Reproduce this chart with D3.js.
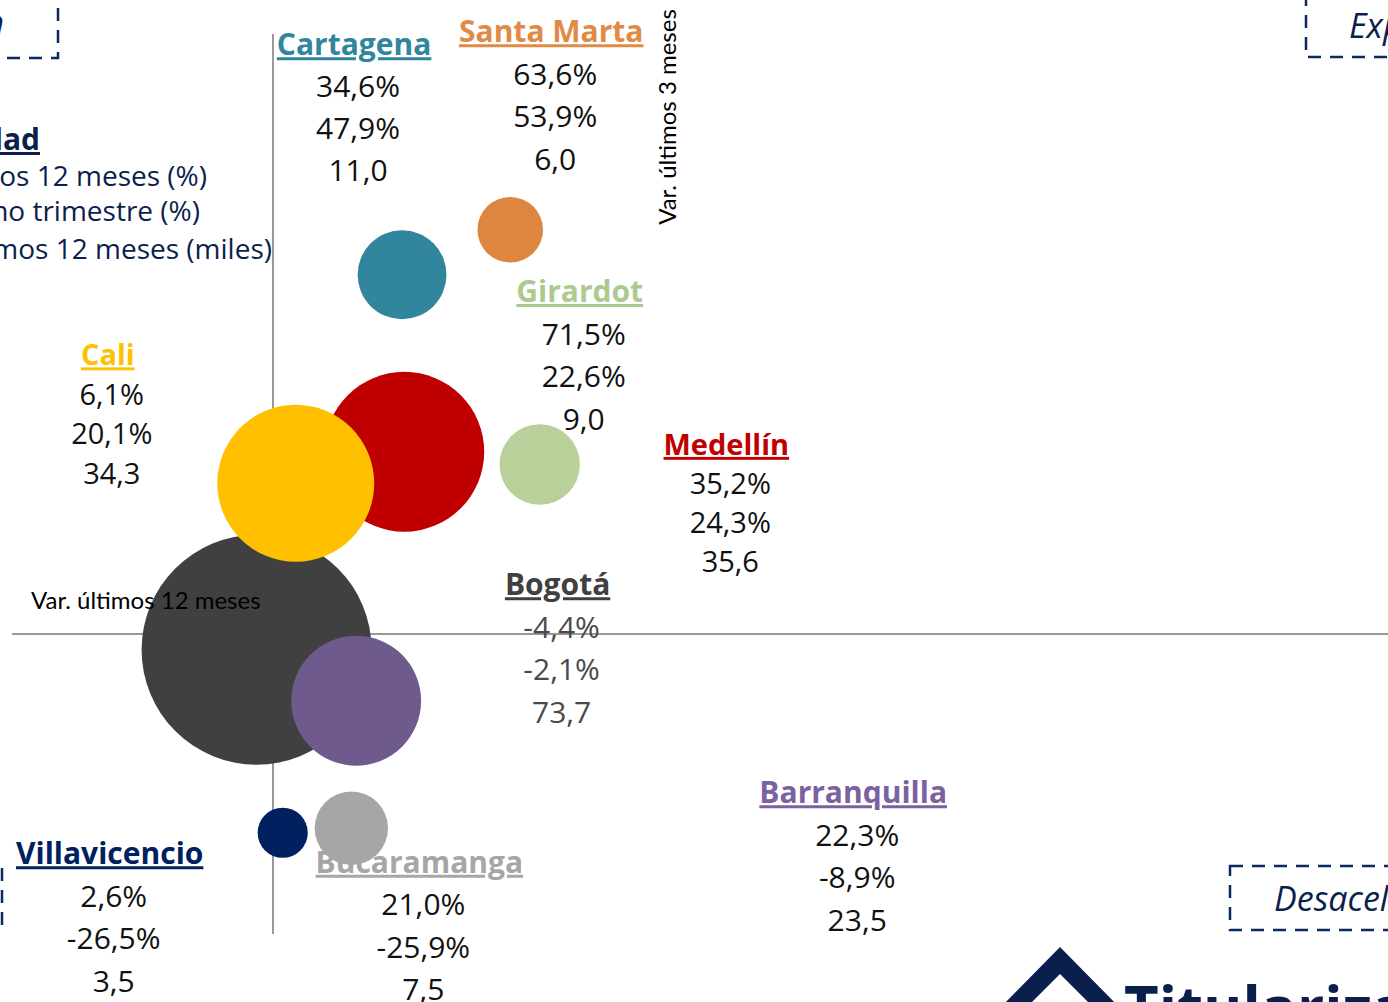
<!DOCTYPE html>
<html>
<head>
   <meta charset="UTF-8">
   <title>Ventas por ciudad - burbujas</title>
   <style>
       body { margin: 0; overflow: hidden; background: white; }
       svg { background: white; display: block; }
       .name { font-family: "Open Sans", sans-serif; font-weight: 700; text-decoration: underline; }
       .val { font-family: "Open Sans", sans-serif; }
       .axis-title { font-family: Lato, "Open Sans", sans-serif; font-size: 24px; fill: #000; }
       .legend { font-family: "Open Sans", sans-serif; fill: #0b1f4d; }
       .quad { font-family: "Open Sans", sans-serif; font-style: italic; font-size: 34px; fill: #0b1f4d; }
   </style>
   <script src="https://cdnjs.cloudflare.com/ajax/libs/d3/7.8.5/d3.min.js"></script>
</head>
<body>
   <div id="chart"></div>
   <script>
       // datos (orden = orden de dibujo)
       const cities = ["Bogotá", "Medellín", "Cali", "Barranquilla", "Cartagena",
                       "Santa Marta", "Girardot", "Bucaramanga", "Villavicencio"];
       const var12m = [-4.4, 35.2, 6.1, 22.3, 34.6, 63.6, 71.5, 21.0, 2.6];   // eje x (%)
       const var3m = [-2.1, 24.3, 20.1, -8.9, 47.9, 53.9, 22.6, -25.9, -26.5]; // eje y (%)
       const ventas = [73.7, 35.6, 34.3, 23.5, 11.0, 6.0, 9.0, 7.5, 3.5];      // tamaño (miles)

       const colors = ["#404040", "#c00000", "#ffc000", "#6f5a8e", "#31859c",
                       "#dd8640", "#b9d09a", "#a6a6a6", "#002060"];
       const nameColors = ["#404040", "#c00000", "#ffc000", "#7a62a0", "#31859c",
                           "#e08a45", "#adc98d", "#a6a6a6", "#002060"];

       // posición de la etiqueta respecto a la burbuja (px) y separación de líneas
       const labelLayout = {
           "Bogotá":        {dx: 301, dy: -65, gap: 42.5, size: 30},
           "Medellín":      {dx: 322, dy: -7, gap: 39, size: 29},
           "Cali":          {dx: -188, dy: -128, gap: 39.5, size: 29},
           "Barranquilla":  {dx: 497, dy: 92, gap: 42.5, size: 30},
           "Cartagena":     {dx: -48, dy: -230, gap: 42, size: 30},
           "Santa Marta":   {dx: 41, dy: -198, gap: 42.5, size: 30},
           "Girardot":      {dx: 40, dy: -173, gap: 42.5, size: 30},
           "Bucaramanga":   {dx: 68, dy: 34, gap: 42.5, size: 30},
           "Villavicencio": {dx: -173, dy: 21, gap: 42.5, size: 30}
       };

       const width = 1388, height = 1002;

       const svg = d3.select("#chart").append("svg")
           .attr("width", width)
           .attr("height", height);

       const x = d3.scaleLinear().domain([0, 100]).range([273, 646]);
       const y = d3.scaleLinear().domain([0, 40]).range([634, 334]);
       const r = d3.scaleSqrt().domain([0, 73.7]).range([0, 115]);

       const locale = d3.formatLocale({decimal: ",", thousands: ".", grouping: [3],
                                       currency: ["$", ""], minus: "-"});
       const f1 = locale.format(".1f");

       // ejes
       svg.append("line")
           .attr("x1", x(-70)).attr("x2", x(320))
           .attr("y1", y(0)).attr("y2", y(0))
           .attr("stroke", "#999").attr("stroke-width", 2);
       svg.append("line")
           .attr("x1", x(0)).attr("x2", x(0))
           .attr("y1", y(80)).attr("y2", y(-40))
           .attr("stroke", "#999").attr("stroke-width", 2);

       const data = cities.map((c, i) => ({
           city: c, vx: var12m[i], vy: var3m[i], size: ventas[i],
           color: colors[i], nameColor: nameColors[i]
       }));

       // etiquetas
       const labels = svg.selectAll(".label")
           .data(data)
           .enter().append("g")
           .attr("class", "label")
           .attr("transform", d => {
               const L = labelLayout[d.city];
               return `translate(${x(d.vx) + L.dx},${y(d.vy) + L.dy})`;
           });

       labels.append("text")
           .attr("class", "name")
           .attr("text-anchor", "middle")
           .attr("dy", "0.35em")
           .style("font-size", d => labelLayout[d.city].size + "px")
           .attr("fill", d => d.nameColor)
           .text(d => d.city);

       labels.each(function(d) {
           const L = labelLayout[d.city];
           const lines = [f1(d.vx) + "%", f1(d.vy) + "%", f1(d.size)];
           d3.select(this).selectAll(".val")
               .data(lines)
               .enter().append("text")
               .attr("class", "val")
               .attr("text-anchor", "middle")
               .attr("x", 4)
               .attr("y", (t, i) => (i + 1) * L.gap)
               .attr("dy", "0.35em")
               .style("font-size", L.size + "px")
               .attr("fill", d.city === "Bogotá" ? "#4a4a4a" : "#111")
               .text(t => t);
       });

       // burbujas
       svg.selectAll(".bubble")
           .data(data)
           .enter().append("circle")
           .attr("class", "bubble")
           .attr("cx", d => x(d.vx))
           .attr("cy", d => y(d.vy))
           .attr("r", d => r(d.size))
           .attr("fill", d => d.color);

       // títulos de ejes
       svg.append("text")
           .attr("class", "axis-title")
           .attr("x", 31).attr("y", 609)
           .text("Var. últimos 12 meses");
       svg.append("text")
           .attr("class", "axis-title")
           .attr("text-anchor", "middle")
           .attr("transform", "translate(676,117) rotate(-90)")
           .text("Var. últimos 3 meses");

       // leyenda (recortada por el borde izquierdo)
       svg.append("text")
           .attr("class", "legend")
           .attr("text-anchor", "end")
           .attr("x", 40).attr("y", 150)
           .style("font-size", "30px").style("font-weight", 700)
           .style("text-decoration", "underline")
           .text("Ciudad");
       const legendLines = [
           ["Var. últimos 12 meses (%)", 207, 186],
           ["Var. último trimestre (%)", 200, 221],
           ["Ventas últimos 12 meses (miles)", 272, 259]
       ];
       svg.selectAll(".legline")
           .data(legendLines)
           .enter().append("text")
           .attr("class", "legend legline")
           .attr("text-anchor", "end")
           .attr("x", d => d[1])
           .attr("y", d => d[2])
           .style("font-size", "28px")
           .text(d => d[0]);

       // recuadros de cuadrantes
       const dash = {stroke: "#0b2a5e", w: 2.5, a: "13,9"};
       function box(x0, y0, w, h) {
           svg.append("rect")
               .attr("x", x0).attr("y", y0).attr("width", w).attr("height", h)
               .attr("fill", "none")
               .attr("stroke", dash.stroke)
               .attr("stroke-width", dash.w)
               .attr("stroke-dasharray", dash.a);
       }
       box(-200, -20, 258, 78);
       box(1306, -20, 200, 77);
       box(1230, 866, 260, 64);
       box(-260, 866, 262, 64);

       svg.append("text").attr("class", "quad")
           .attr("x", 1349).attr("y", 38).text("Expansión");
       svg.append("text").attr("class", "quad")
           .attr("x", 1274).attr("y", 911).text("Desaceleración");
       svg.append("text").attr("class", "quad")
           .attr("text-anchor", "end")
           .attr("x", 4).attr("y", 35).text("Recuperación");
       svg.append("text").attr("class", "quad")
           .attr("text-anchor", "end")
           .attr("x", -20).attr("y", 911).text("Contracción");

       // logo
       svg.append("path")
           .attr("d", "M1060,947 L1122,1010 L1096,1010 L1060,974 L1024,1010 L998,1010 Z")
           .attr("fill", "#0b1f4d");
       svg.append("text")
           .attr("x", 1124).attr("y", 1030)
           .style("font-family", "'Open Sans', sans-serif")
           .style("font-weight", 700)
           .style("font-size", "60px")
           .attr("fill", "#0b1f4d")
           .text("Titularizadora");
   </script>
</body>
</html>
